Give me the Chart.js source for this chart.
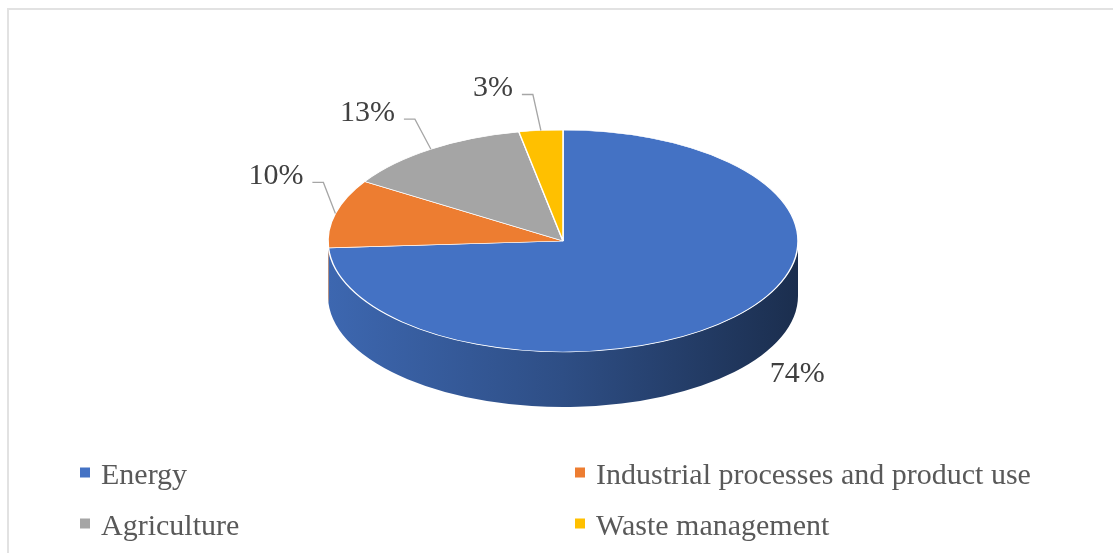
<!DOCTYPE html>
<html><head><meta charset="utf-8">
<script src="https://cdn.jsdelivr.net/npm/chart.js@4.4.1/dist/chart.umd.min.js"></script>
<style>html,body{margin:0;padding:0;background:#fff;}#wrap{position:relative;width:1113px;height:553px;}</style>
</head><body><div id="wrap"><canvas id="c" width="1113" height="553"></canvas></div>
<script>
const categories = ['Energy', 'Industrial processes and product use', 'Agriculture', 'Waste management'];
const shares = [74, 10, 13, 3];
const sliceColors = ['#4472C4', '#ED7D31', '#A5A5A5', '#FFC000'];

const TILT = 111 / 235;
const DEPTH = 55;
const SERIF = '"Liberation Serif", "Times New Roman", serif';

function norm(a) { const t = Math.PI * 2; return ((a % t) + t) % t; }
function shade(hex, f) {
  const n = parseInt(hex.slice(1), 16);
  const r = Math.round(((n >> 16) & 255) * f), g = Math.round(((n >> 8) & 255) * f), b = Math.round((n & 255) * f);
  return `rgb(${r},${g},${b})`;
}

const framePlugin = {
  id: 'frame',
  beforeDraw(chart) {
    const ctx = chart.ctx;
    ctx.save();
    ctx.fillStyle = '#ffffff';
    ctx.fillRect(0, 0, chart.width, chart.height);
    ctx.strokeStyle = '#e2e2e2';
    ctx.lineWidth = 2;
    ctx.strokeRect(8, 9, chart.width + 20, chart.height + 20);
    ctx.restore();
  }
};

let tilted = false;
const pie3dPlugin = {
  id: 'pie3d',
  beforeDatasetsDraw(chart) {
    const ctx = chart.ctx;
    const arcs = chart.getDatasetMeta(0).data;
    if (!arcs.length) return;
    const cx = arcs[0].x, cy = arcs[0].y, r = arcs[0].outerRadius, ry = r * TILT;
    ctx.save();
    arcs.forEach((arc, i) => {
      const a1 = norm(arc.startAngle), a2 = a1 + (arc.endAngle - arc.startAngle);
      [[0, Math.PI], [2 * Math.PI, 3 * Math.PI]].forEach(([lo, hi]) => {
        const s = Math.max(a1, lo), e = Math.min(a2, hi);
        if (e > s) {
          const col = chart.data.datasets[0].backgroundColor[i];
          const g = ctx.createLinearGradient(cx - r, 0, cx + r, 0);
          g.addColorStop(0, shade(col, 0.9));
          g.addColorStop(0.5, shade(col, 0.68));
          g.addColorStop(1, shade(col, 0.4));
          ctx.fillStyle = g;
          ctx.beginPath();
          ctx.ellipse(cx, cy, r, ry, 0, s, e, false);
          ctx.ellipse(cx, cy + DEPTH, r, ry, 0, e, s, true);
          ctx.closePath();
          ctx.fill();
        }
      });
    });
    ctx.restore();
    ctx.save();
    ctx.translate(cx, cy);
    ctx.scale(1, TILT);
    ctx.translate(-cx, -cy);
    tilted = true;
  },
  afterDatasetsDraw(chart) {
    if (tilted) { chart.ctx.restore(); tilted = false; }
  }
};

const pieLabelsPlugin = {
  id: 'pieLabels',
  afterDraw(chart, args, opts) {
    const ctx = chart.ctx;
    const arcs = chart.getDatasetMeta(0).data;
    const vals = chart.data.datasets[0].data;
    const total = vals.reduce((a, b) => a + b, 0);
    ctx.save();
    ctx.font = `${opts.size}px ${SERIF}`;
    ctx.fillStyle = opts.color;
    ctx.strokeStyle = opts.leaderColor;
    ctx.lineWidth = 1.3;
    arcs.forEach((arc, i) => {
      const mid = (arc.startAngle + arc.endAngle) / 2;
      const px = arc.x + arc.outerRadius * Math.cos(mid);
      const py = arc.y + arc.outerRadius * TILT * Math.sin(mid);
      const o = opts.offsets[i];
      const txt = Math.round(vals[i] / total * 100) + '%';
      ctx.textBaseline = 'alphabetic';
      if (o.leader) {
        const ex = px + o.dx, ey = py + o.dy;
        ctx.beginPath();
        ctx.moveTo(px, py);
        ctx.lineTo(ex, ey);
        ctx.lineTo(ex - 11, ey);
        ctx.stroke();
        ctx.textAlign = 'right';
        ctx.fillText(txt, ex - 20, ey + 2);
      } else {
        ctx.textAlign = 'center';
        ctx.fillText(txt, px + o.dx, py + o.dy);
      }
    });
    ctx.restore();
  }
};

const legendGridPlugin = {
  id: 'legendGrid',
  afterDraw(chart, args, opts) {
    const ctx = chart.ctx;
    const labels = chart.data.labels;
    const cols = chart.data.datasets[0].backgroundColor;
    ctx.save();
    ctx.font = `${opts.size}px ${SERIF}`;
    ctx.textAlign = 'left';
    ctx.textBaseline = 'alphabetic';
    labels.forEach((lab, i) => {
      const x = opts.colX[i % 2];
      const y = opts.rowY[Math.floor(i / 2)];
      ctx.fillStyle = cols[i];
      ctx.fillRect(x, y - 5, 10, 10);
      ctx.fillStyle = opts.color;
      ctx.fillText(lab, x + 21, y + 11);
    });
    ctx.restore();
  }
};

new Chart(document.getElementById('c'), {
  type: 'pie',
  data: {
    labels: categories,
    datasets: [{
      data: shares,
      backgroundColor: sliceColors,
      borderColor: '#ffffff',
      borderWidth: 1.5,
      radius: 235,
      hoverOffset: 0,
      clip: false
    }]
  },
  options: {
    responsive: false,
    animation: false,
    devicePixelRatio: 1,
    events: [],
    layout: { padding: { left: 13, right: 0, top: 0, bottom: 71 } },
    plugins: {
      legend: { display: false },
      tooltip: { enabled: false },
      pieLabels: {
        size: 30,
        color: '#404040',
        leaderColor: '#a6a6a6',
        offsets: [
          { dx: 63, dy: 65, leader: false },
          { dx: -12, dy: -31, leader: true },
          { dx: -16, dy: -30, leader: true },
          { dx: -8, dy: -36, leader: true }
        ]
      },
      legendGrid: {
        size: 30,
        color: '#595959',
        colX: [80, 575],
        rowY: [472.5, 523.5]
      }
    }
  },
  plugins: [framePlugin, pie3dPlugin, pieLabelsPlugin, legendGridPlugin]
});
</script>
</body></html>
